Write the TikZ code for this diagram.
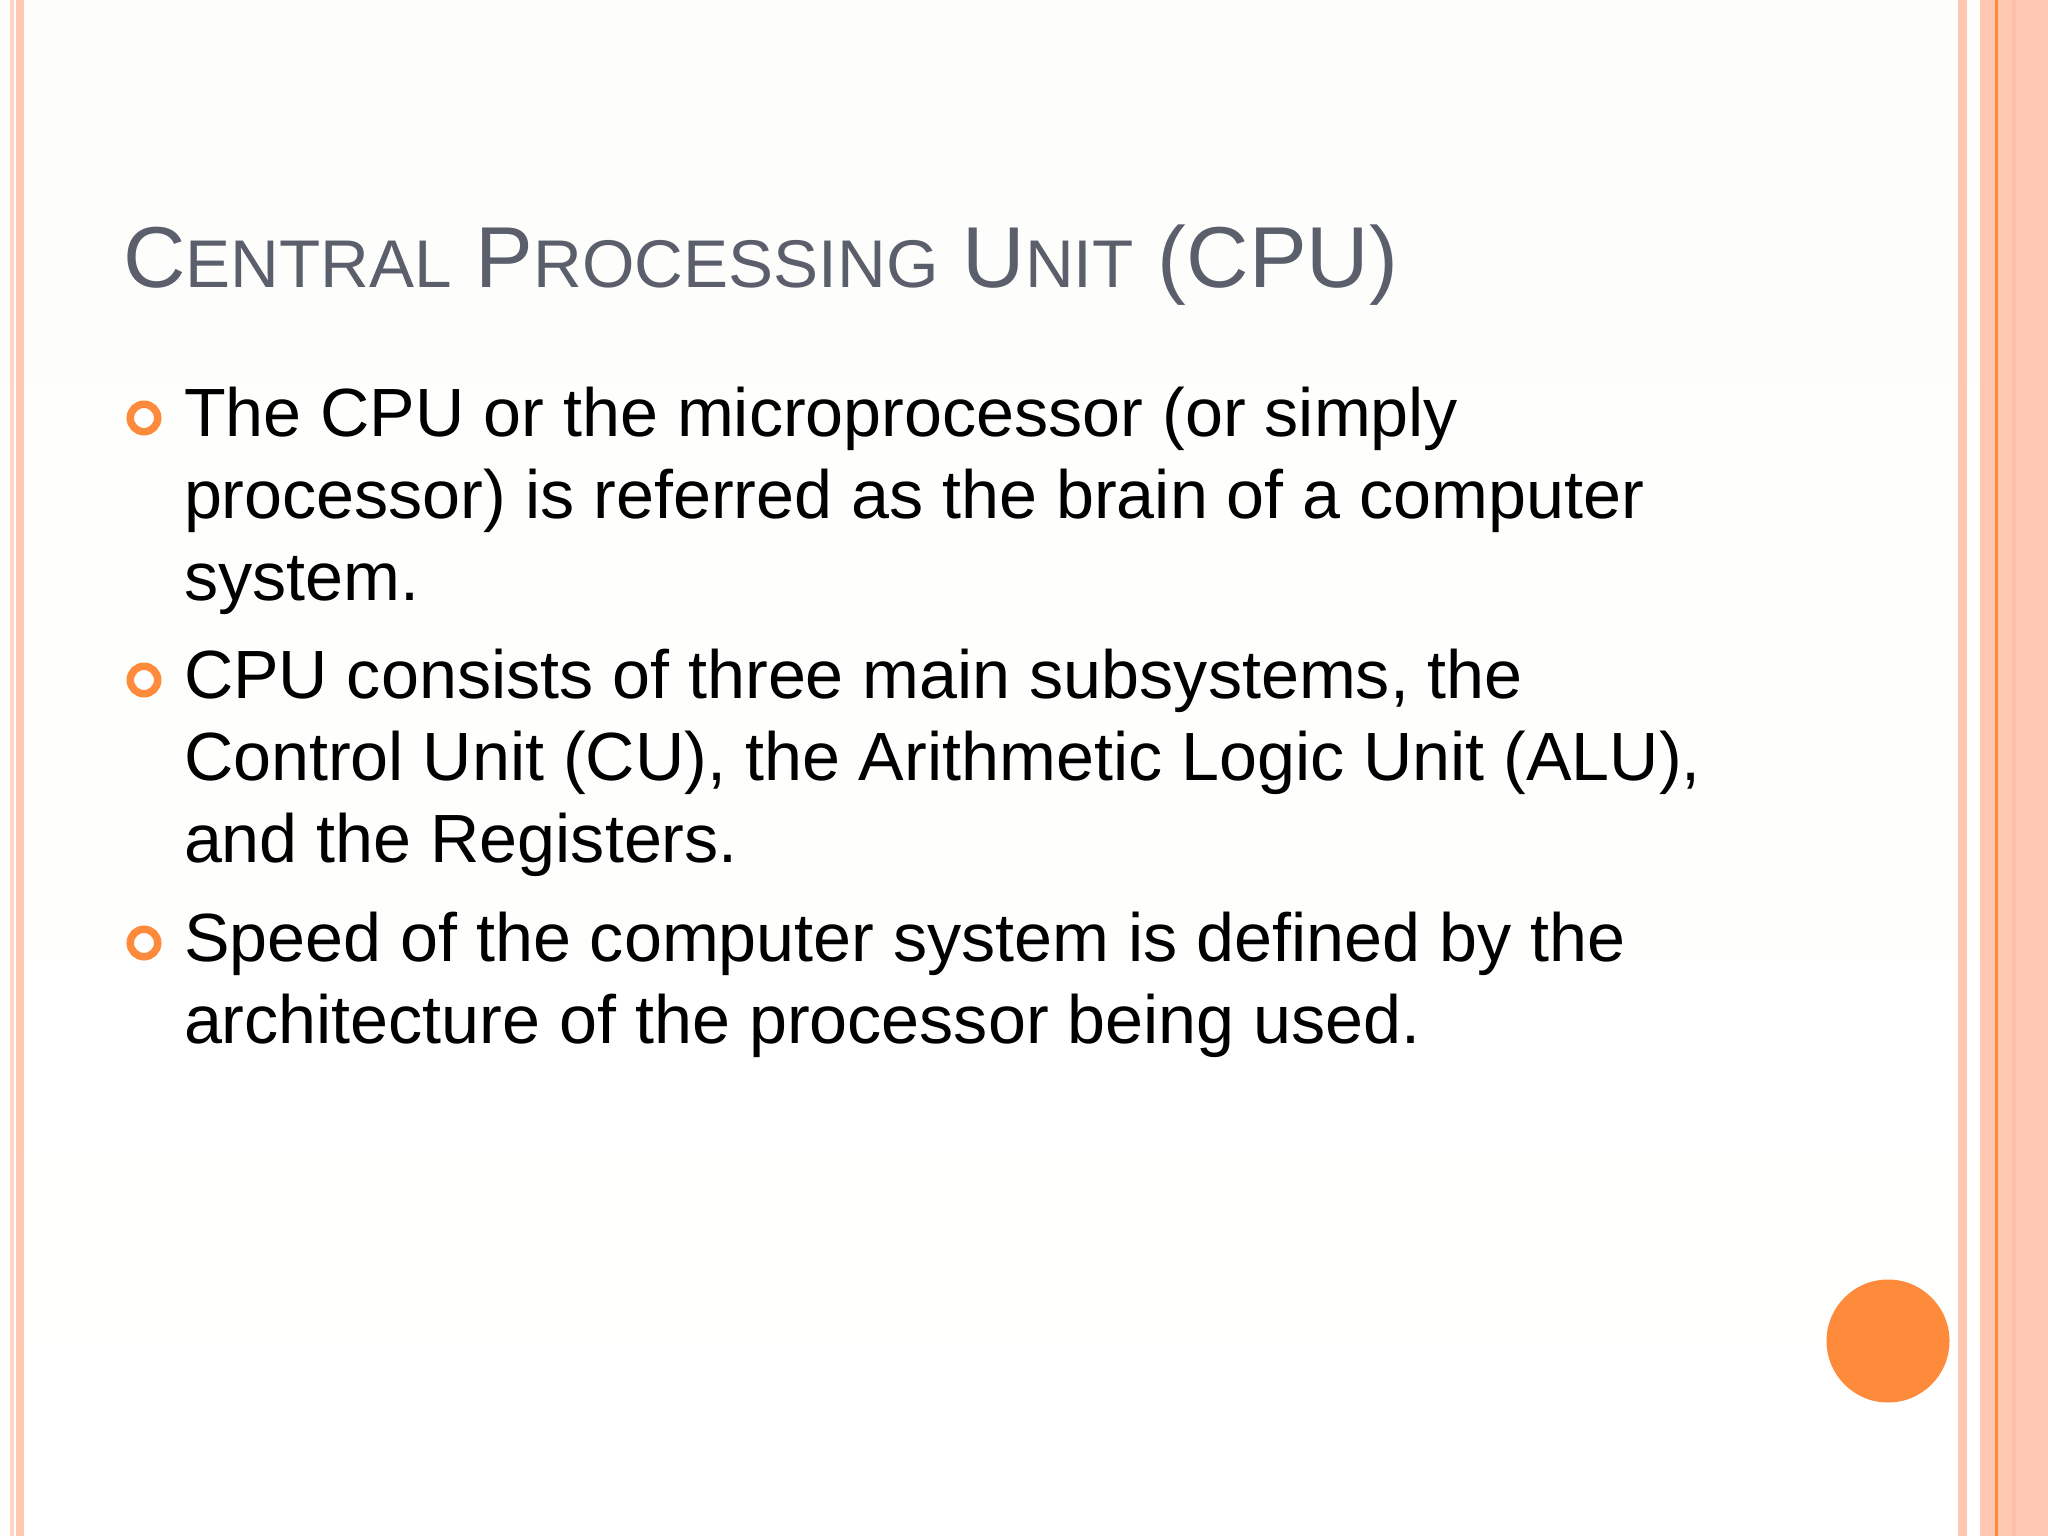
\documentclass[tikz,border=0pt]{standalone}
\usepackage{fontspec}
\setmainfont{Liberation Sans}
\definecolor{stripe}{HTML}{FEC7B2}
\definecolor{stripeb}{HTML}{FDBFA8}
\definecolor{accent}{HTML}{FE8A3C}
\definecolor{titlegray}{HTML}{5B5F6B}
\definecolor{paper}{HTML}{FDFEFB}
\tikzset{
  x=1pt,y=-1pt,
  band/.style={fill=stripe,draw=none},
  bodyline/.style={anchor=base west,inner sep=0pt,outer sep=0pt,text=black,font=\fontsize{68.25}{82}\selectfont},
  titleline/.style={anchor=base west,inner sep=0pt,outer sep=0pt,text=titlegray},
  bulletring/.style={circle,draw=accent,line width=7.5pt,fill=white,minimum size=27.5pt,inner sep=0pt},
}
\newcommand{\bigc}{\fontsize{86.5}{90}\selectfont}
\newcommand{\smallc}{\fontsize{67.5}{90}\selectfont}
\begin{document}
\begin{tikzpicture}
\useasboundingbox (0,0) rectangle (2048,1536);
\shade[top color=paper,bottom color=white,draw=none] (0,0) rectangle (2048,1536);
% left stripes
\fill[stripe!75!white] (10,0) rectangle (14,1536);
\fill[band] (16,0) rectangle (24,1536);
% right stripes
\fill[band] (1958,0) rectangle (1967,1536);
\fill[band] (1980,0) rectangle (2048,1536);
\fill[stripeb] (2012,0) rectangle (2016,1536);
\fill[accent] (1995,0) rectangle (1997.5,1536);
% big circle
\node[circle,fill=accent,draw=none,minimum size=123pt,inner sep=0pt] (dot) at (1888,1341) {};
% title
\node[titleline] (title) at (123,287) {\bigc C\smallc ENTRAL\bigc{} P\smallc ROCESSING\bigc{} U\smallc NIT\bigc{} (CPU)};
% bullets
\node[bulletring] (b1) at (144,418) {};
\node[bulletring] (b2) at (144,680) {};
\node[bulletring] (b3) at (144,943) {};
% body
\node[bodyline] (l1) at (184,436) {The CPU or the microprocessor (or simply};
\node[bodyline] (l2) at (184,518) {processor) is referred as the brain of a computer};
\node[bodyline] (l3) at (184,600) {system.};
\node[bodyline] (l4) at (184,698) {CPU consists of three main subsystems, the};
\node[bodyline] (l5) at (184,780.5) {Control Unit (CU), the Arithmetic Logic Unit (ALU),};
\node[bodyline] (l6) at (184,862.5) {and the Registers.};
\node[bodyline] (l7) at (184,961) {Speed of the computer system is defined by the};
\node[bodyline] (l8) at (184,1043) {architecture of the processor being used.};
\end{tikzpicture}
\end{document}
